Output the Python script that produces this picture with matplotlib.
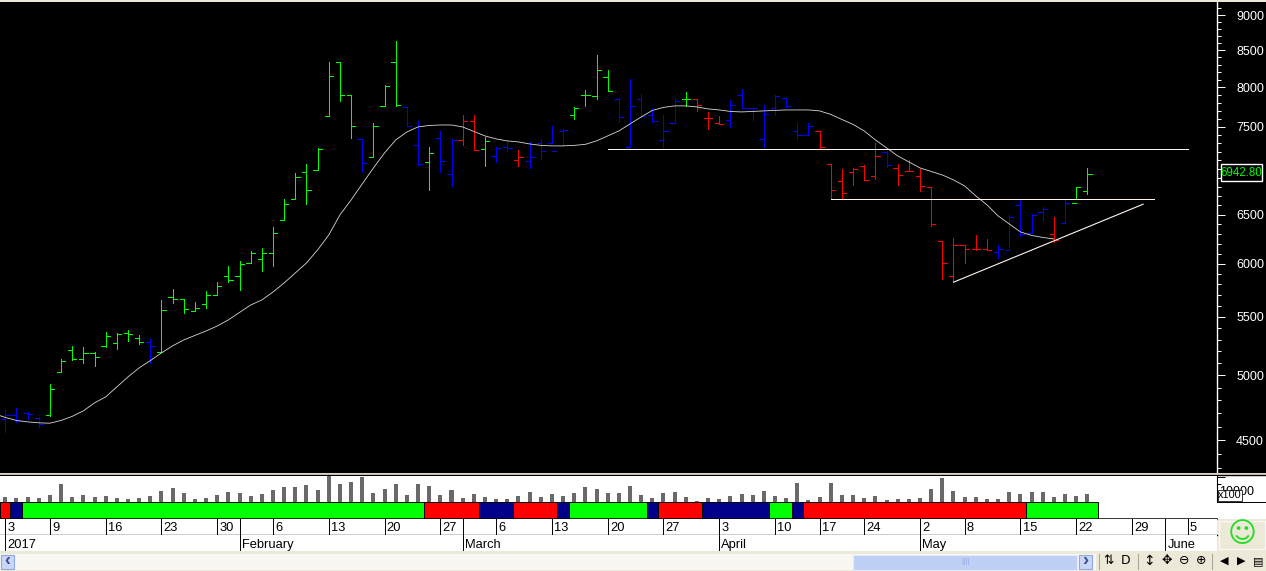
import numpy as np
import matplotlib
matplotlib.use("Agg")
import matplotlib.pyplot as plt
from matplotlib.patches import Rectangle
from matplotlib.ticker import FixedLocator, NullFormatter, FixedFormatter

W, H = 1266, 571

# ---------- data ----------
opens = [4658,4691,4702,4668,4686,5026,5210,5134,5187,5244,5269,5356,5315,5281,5193,5680,5662,5552,5616,5699,
         5881,5879,6005,6044,6103,6441,6665,6965,6988,7631,8334,7897,7350,7138,7757,8334,7744,7286,7080,7362,
         6942,7338,7569,7231,7149,7255,7103,7091,7303,7303,7446,7644,7897,7884,8132,7846,7255,7846,7644,7338,
         7544,7846,7846,7606,7544,7581,7897,7731,7350,7731,7859,7446,7398,7446,7056,6864,6965,7034,6920,7196,
         7011,6976,6920,6797,6224,5879,6184,6143,6143,6113,6133,6600,6305,6526,6295,6409,6622,6753]
highs = [4727,4742,4714,4673,4932,5137,5247,5238,5193,5368,5356,5382,5341,5304,5655,5757,5664,5637,5736,5821,
         5978,6027,6123,6156,6371,6668,6957,7060,7250,8334,8334,7897,7350,7544,8027,8624,7744,7569,7259,7446,
         7350,7644,7644,7374,7255,7327,7219,7315,7350,7508,7471,7744,7961,8438,8230,7846,8105,7914,7731,7644,
         7846,7935,7846,7681,7631,7833,7974,7731,7770,7897,7859,7544,7544,7446,7056,6999,7011,7045,7303,7208,
         7056,7103,6999,6797,6224,6254,6184,6285,6244,6184,6494,6665,6504,6579,6473,6665,6804,7011]
lows = [4562,4635,4658,4598,4683,5026,5128,5106,5081,5241,5216,5292,5261,5101,5193,5630,5540,5552,5585,5699,
        5824,5751,6005,5932,5981,6441,6665,6617,6988,7631,7828,7370,6972,7138,7757,7757,7508,7045,6770,6972,
        6815,7286,7219,7040,7086,7215,7040,7017,7114,7303,7267,7597,7765,7846,7948,7564,7255,7619,7557,7263,
        7544,7761,7701,7478,7532,7495,7731,7589,7259,7648,7744,7350,7398,7235,6665,6676,6826,6875,6886,7022,
        6826,6976,6753,6378,5855,5821,6011,6133,6133,6054,6133,6275,6305,6430,6214,6409,6665,6720]
closes = [4691,4642,4696,4618,4891,5120,5134,5185,5151,5330,5350,5347,5278,5244,5561,5662,5570,5580,5699,5786,
          5840,5998,6109,6106,6311,6611,6908,6764,7238,8146,7897,7508,7068,7508,8014,7770,7508,7057,7184,7091,
          7338,7569,7219,7327,7243,7243,7138,7138,7208,7208,7458,7731,7897,8226,7948,7619,7757,7631,7569,7446,
          7821,7846,7770,7606,7532,7770,7731,7731,7656,7884,7757,7398,7508,7255,6764,6731,6999,6875,7149,7045,
          6931,6976,6808,6399,6005,6184,6143,6143,6133,6143,6473,6295,6494,6557,6234,6622,6797,6942.8]
bar_state = ("bbbb" "ggggggggg" "b" "gggggggggggggggggg" "b" "ggg" "bb" "g" "bb" "rr" "g" "bb" "r" "bbbb" "gggg"
             "bbbbbb" "g" "rrr" "bbbbbbbb" "rrrrrr" "b" "rrrrrrrrr" "bbbbb" "r" "b" "gg")
moving_avg = [4697,4669,4646,4635,4628,4625,4646,4677,4719,4781,4828,4907,4988,5062,5122,5187,5247,5298,5337,5376,5420,
              5474,5541,5609,5655,5729,5814,5910,6007,6136,6288,6497,6657,6834,7014,7188,7342,7438,7499,7517,7523,
              7523,7499,7444,7390,7354,7330,7318,7294,7277,7271,7271,7277,7289,7330,7390,7450,7536,7622,7704,7742,
              7761,7761,7748,7723,7710,7691,7685,7691,7698,7704,7710,7710,7710,7698,7654,7591,7530,7450,7342,7247,
              7153,7083,7014,6974,6934,6878,6811,6701,6604,6486,6402,6319,6283,6262,6247]
volume = [5000,4000,5000,4000,7000,18300,5000,7000,5000,6000,4000,3000,4000,6000,11000,14000,9000,3000,4000,7000,
          10000,9000,6000,8000,12000,15000,15000,17000,12000,26000,18000,20000,25000,9000,13000,18000,7000,18300,16300,7000,
          12000,4000,8000,5000,3000,3000,6000,10000,5000,8000,6000,9000,15000,13000,9000,9000,16000,7000,4000,9000,
          10000,5000,1000,4000,3000,6000,8000,7000,11000,6000,4000,19000,2000,5000,19000,7000,7000,4000,6000,2000,
          3000,3000,4000,13000,24000,11000,5000,5000,3000,3000,10000,8000,10000,10000,5000,8000,6000,8000]

resistance_high = ([54, 106], [7231, 7231])
resistance_low = ([74, 103], [6665, 6665])
support = ([85, 102], [5821, 6611])

band_colors = ["r","b","g","r","b","r","b","g","b","r","b","g","b","r","g"]
band_edges = [-0.47,0.45,1.5,37.5,42.5,45.5,49.5,50.5,57.5,58.5,62.5,68.5,70.5,71.5,91.5,98.0]

date_ticks = [0,4,9,14,19,24,29,34,39,44,49,54,59,64,69,73,77,82,86,91,96,101,106]
date_labels = ["3","9","16","23","30","6","13","20","27","6","13","20","27","3","10","17","24","2","8","15","22","29","5"]
month_ticks = [0,21,41,64,82,104]
month_labels = ["2017","February","March","April","May","June"]

price_major = [4500,5000,5500,6000,6500,7000,7500,8000,8500,9000]
price_labels = ["4500","5000","5500","6000","6500","","7500","8000","8500","9000"]
price_minor = [p for p in range(4300, 9200, 100) if p % 500]
last_price = "6942.80"

# ---------- layout ----------
plt.rcParams['font.family'] = ['Liberation Sans', 'DejaVu Sans']
BEIGE = '#ECE9D8'
COL = {'g': '#00FF00', 'b': '#0000FF', 'r': '#FF0000'}
BAND = {'g': '#00FF00', 'b': '#00008B', 'r': '#FF0000'}
px_per_bar = 11.155
x0 = -5.3 / px_per_bar
AX_R = 1216.7
x1 = x0 + AX_R / px_per_bar

fig = plt.figure(figsize=(W / 100, H / 100), dpi=100, facecolor=BEIGE)

def pane(top, bottom, left=0, right=AX_R, z=2):
    return fig.add_axes([left / W, 1 - bottom / H, (right - left) / W, (bottom - top) / H], zorder=z)

bg = pane(0, H, 0, W, z=0)
bg.set_xlim(0, W); bg.set_ylim(H, 0); bg.axis('off')
bg.add_patch(Rectangle((0, 1.5), W, 471, fc='black', ec='none'))
bg.add_patch(Rectangle((0, 475), W, 44, fc='white', ec='none'))
bg.plot([0, W], [475.2, 475.2], color='black', lw=1)
bg.plot([0, W], [502.3, 502.3], color='black', lw=0.7)
bg.add_patch(Rectangle((0, 473), W, 1.2, fc='#D8D4C0', ec='none'))
bg.add_patch(Rectangle((0, 554), 1096, 16, fc='#F8F7F2', ec='none'))

def hide_all(ax):
    for s in ax.spines.values():
        s.set_visible(False)
    ax.set_xticks([]); ax.set_yticks([])

# ---------- price pane ----------
ax = pane(1.5, 472)
ax.set_facecolor('black')
ax.set_yscale('log')
ax.set_xlim(x0, x1)
ax.set_ylim(4500 * np.exp((440 - 472) / 613), 4500 * np.exp((440 - 1.5) / 613))
for s in ('top', 'left', 'bottom'):
    ax.spines[s].set_visible(False)
ax.spines['right'].set_color('white')
ax.spines['right'].set_linewidth(1.0)
ax.set_xticks([])
ax.yaxis.tick_right()
ax.yaxis.set_major_locator(FixedLocator(price_major))
ax.yaxis.set_major_formatter(FixedFormatter(price_labels))
ax.yaxis.set_minor_locator(FixedLocator(price_minor))
ax.yaxis.set_minor_formatter(NullFormatter())
ax.tick_params(axis='y', which='major', length=5.8, width=0.7, color='white', labelcolor='white',
               labelsize=9, pad=8.2)
ax.tick_params(axis='y', which='minor', length=2.6, width=0.7, color='white')

idx = np.arange(len(opens))
colors = [COL[c] for c in bar_state]
tick = 0.38
LW = 0.62
ax.vlines(idx, lows, highs, colors=colors, lw=LW, antialiased=False, zorder=3)
ax.hlines(opens, idx - tick, idx, colors=colors, lw=LW, antialiased=False, zorder=3)
ax.hlines(closes, idx, idx + tick, colors=colors, lw=LW, antialiased=False, zorder=3)
ax.plot(np.arange(len(moving_avg)) - 1, moving_avg, color='#D8D8D8', lw=0.6, zorder=4)
ax.plot(resistance_high[0], resistance_high[1], color='#FFF4EE', lw=0.72, antialiased=False, zorder=5)
ax.plot(resistance_low[0], resistance_low[1], color='#FFF4EE', lw=0.72, antialiased=False, zorder=5)
ax.plot(support[0], support[1], color='#FFF4EE', lw=0.8, zorder=5)

# ---------- volume pane ----------
vx = pane(476, 502)
vx.set_facecolor('white')
vx.bar(idx, volume, width=0.36, color='#696969')
vx.set_xlim(x0, x1)
vx.set_ylim(0, 26000)
for s in ('top', 'left', 'bottom'):
    vx.spines[s].set_visible(False)
vx.spines['right'].set_linewidth(0.8)
vx.set_xticks([])
vx.yaxis.tick_right()
vx.yaxis.set_major_locator(FixedLocator([25000]))
vx.yaxis.set_major_formatter(NullFormatter())
vx.yaxis.set_minor_locator(FixedLocator([10000, 18000]))
vx.tick_params(axis='y', which='major', length=5.8, width=0.7)
vx.tick_params(axis='y', which='minor', length=3.2, width=0.7)

# ---------- status band ----------
bx = pane(502.3, 519.3)
bx.set_facecolor('white')
bx.set_xlim(x0, x1); bx.set_ylim(0, 1)
for c, a, b in zip(band_colors, band_edges[:-1], band_edges[1:]):
    bx.barh(0.5, b - a, left=a, height=1, color=BAND[c], edgecolor='black', linewidth=0.7)
hide_all(bx)
bx.plot([x0, x1], [0, 0], color='black', lw=1.1, clip_on=False)

# ---------- date rows ----------
dx = pane(519.3, 535)
dx.set_facecolor('white'); dx.set_xlim(x0, x1); dx.set_ylim(0, 1); hide_all(dx)
dx.plot([x0, x1], [0, 0], color='black', lw=1, clip_on=False)
for t, l in zip(date_ticks, date_labels):
    dx.axvline(t, color='black', lw=0.7)
    dx.annotate(l, (t, 0.47), xytext=(1.6, 0), textcoords='offset points', fontsize=9.3, va='center', ha='left')
mx = pane(535, 551)
mx.set_facecolor('white'); mx.set_xlim(x0, x1); mx.set_ylim(0, 1); hide_all(mx)
for t, l in zip(month_ticks, month_labels):
    mx.axvline(t, color='black', lw=0.7)
    dx.axvline(t, color='black', lw=0.7)
    mx.annotate(l, (t, 0.38), xytext=(1.6, 0), textcoords='offset points', fontsize=9.3, va='center', ha='left')

# ---------- overlay: last price box, x100 box, status face, scroll bar ----------
ov = pane(0, H, 0, W, z=6)
ov.set_xlim(0, W); ov.set_ylim(H, 0); ov.axis('off'); ov.patch.set_alpha(0)
ov.add_patch(Rectangle((1220.5, 164), 41.5, 16.5, fc='black', ec='white', lw=1, zorder=2))
ov.text(1241.2, 172.5, last_price, color='#00FF00', fontsize=8.3, ha='center', va='center', zorder=3)
ov.text(1219.5, 491.7, "10000", color='black', fontsize=9, ha='left', va='center', zorder=1)
ov.add_patch(Rectangle((1218, 489.5), 24, 11.5, fc='white', ec='#303030', lw=0.7, zorder=2))
ov.text(1230, 495.5, "x100", color='black', fontsize=7.8, ha='center', va='center', zorder=3)
ov.add_patch(Rectangle((1219, 520.5), 46, 28, fc=BEIGE, ec='#F8F8F4', lw=1))
ov.text(1242, 534.5, "\u263A", color='#22DD22', fontsize=20, ha='center', va='center', family='DejaVu Sans')

ov.add_patch(Rectangle((853, 554.5), 224, 15, fc='#BFD0F6', ec='#E4EBFB', lw=0.8))
ov.text(965, 561.5, "||||", color='#8EA8E2', fontsize=6, ha='center', va='center')
for bx_l, ch in ((1, "\u2039"), (1079, "\u203A")):
    ov.add_patch(Rectangle((bx_l, 555), 13, 14, fc='#C8D6F8', ec='#8FA8DE', lw=0.8))
    ov.text(bx_l + 6.5, 561, ch, color='#3A4F8A', fontsize=13, weight='bold', ha='center', va='center')
for sx in (1098.7, 1138, 1212):
    ov.plot([sx, sx], [554, 569], color='#ACA899', lw=0.8)
icons = [(1109, "\u21C5", 9), (1126, "D", 9), (1149, "\u2195", 10), (1167, "\u2725", 9),
         (1184, "\u2296", 9), (1201, "\u2295", 9), (1224, "\u25C0", 8), (1241, "\u25B6", 8), (1258, "\u25A4", 8)]
for ix, ch, fs in icons:
    ov.text(ix, 561, ch, color='black', fontsize=fs, ha='center', va='center', family='DejaVu Sans')

fig.savefig("out.png", dpi=100, facecolor=fig.get_facecolor())
